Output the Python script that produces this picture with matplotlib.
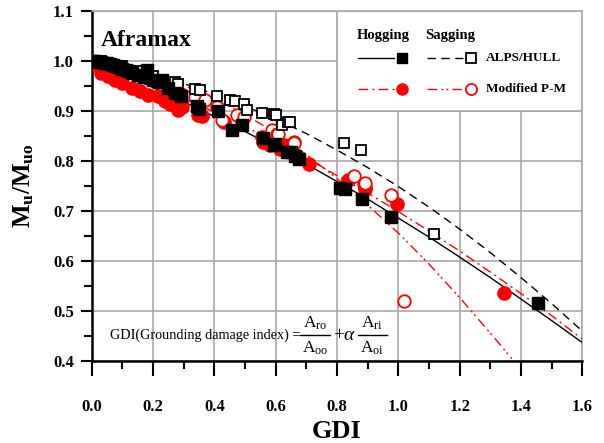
import matplotlib
matplotlib.use("Agg")
import matplotlib.pyplot as plt
from matplotlib.patches import Rectangle
from matplotlib.lines import Line2D

plt.rcParams['font.family'] = ['Liberation Serif', 'DejaVu Serif']
plt.rcParams['mathtext.fontset'] = 'custom'
plt.rcParams['mathtext.rm'] = 'Liberation Serif'
plt.rcParams['mathtext.it'] = 'Liberation Serif:italic'
plt.rcParams['mathtext.bf'] = 'Liberation Serif:bold'

# ---------------- data ----------------
curve_x = [0.0, 0.1, 0.2, 0.3, 0.4, 0.5, 0.6, 0.7, 0.8, 0.9, 1.0, 1.1, 1.2, 1.3, 1.4, 1.5, 1.6]
hog_alps_curve = [1.0, 0.974, 0.947, 0.919, 0.889, 0.859, 0.827, 0.794, 0.759, 0.724, 0.686,
                  0.648, 0.608, 0.567, 0.524, 0.481, 0.437]
sag_alps_curve = [1.0, 0.988, 0.973, 0.955, 0.934, 0.910, 0.884, 0.855, 0.822, 0.787, 0.749,
                  0.708, 0.664, 0.617, 0.567, 0.515, 0.460]
hog_pm_curve = [1.0, 0.977, 0.952, 0.926, 0.898, 0.869, 0.838, 0.806, 0.771, 0.736, 0.699,
                0.660, 0.620, 0.578, 0.535, 0.491, 0.444]
sag_pm_curve_x = [0.0, 0.1, 0.2, 0.3, 0.4, 0.5, 0.6, 0.7, 0.8, 0.9, 1.0, 1.1, 1.2, 1.3, 1.37]
sag_pm_curve = [1.0, 0.989, 0.973, 0.952, 0.925, 0.893, 0.856, 0.813, 0.765, 0.712, 0.656,
                0.594, 0.527, 0.456, 0.405]

hog_alps_x = [0.0, 0.01, 0.02, 0.03, 0.04, 0.05, 0.06, 0.07, 0.08, 0.09, 0.10, 0.11, 0.12, 0.13,
              0.15, 0.17, 0.18, 0.20, 0.22, 0.23, 0.25, 0.27, 0.29, 0.343, 0.35, 0.413, 0.457,
              0.49, 0.56, 0.593, 0.598, 0.637, 0.65, 0.663, 0.675, 0.811, 0.827, 0.881, 0.977, 1.454]
hog_alps_y = [1.0, 1.0, 0.999, 0.998, 0.997, 0.996, 0.995, 0.993, 0.99, 0.988, 0.985, 0.982, 0.98,
              0.977, 0.972, 0.968, 0.983, 0.962, 0.958, 0.962, 0.947, 0.937, 0.93, 0.91, 0.905,
              0.901, 0.862, 0.872, 0.847, 0.832, 0.834, 0.819, 0.819, 0.81, 0.804, 0.747, 0.745,
              0.725, 0.689, 0.517]

sag_alps_x = [0.0, 0.03, 0.06, 0.10, 0.15, 0.20, 0.27, 0.28, 0.337, 0.354, 0.41, 0.452, 0.468,
              0.495, 0.506, 0.555, 0.593, 0.602, 0.62, 0.639, 0.648, 0.822, 0.879, 1.116]
sag_alps_y = [1.0, 1.0, 0.995, 0.99, 0.98, 0.97, 0.958, 0.955, 0.945, 0.943, 0.93, 0.922, 0.921,
              0.914, 0.902, 0.897, 0.894, 0.892, 0.872, 0.879, 0.879, 0.837, 0.823, 0.655]

hog_pm_x = [0.0, 0.01, 0.03, 0.053, 0.075, 0.097, 0.13, 0.157, 0.184, 0.216, 0.238, 0.255, 0.282,
            0.294, 0.348, 0.354, 0.36, 0.43, 0.555, 0.56, 0.582, 0.615, 0.626, 0.71, 0.835,
            0.89, 0.892, 0.996, 1.346]
hog_pm_y = [1.0, 0.995, 0.977, 0.97, 0.963, 0.957, 0.947, 0.94, 0.933, 0.93, 0.92, 0.915, 0.903,
            0.909, 0.892, 0.895, 0.89, 0.879, 0.849, 0.839, 0.832, 0.825, 0.832, 0.795, 0.762,
            0.749, 0.745, 0.715, 0.536]

sag_pm_x = [0.0, 0.29, 0.30, 0.337, 0.37, 0.408, 0.424, 0.473, 0.495, 0.588, 0.604, 0.609, 0.658,
            0.661, 0.854, 0.889, 0.89, 0.975, 1.018]
sag_pm_y = [1.0, 0.935, 0.93, 0.929, 0.922, 0.909, 0.883, 0.892, 0.889, 0.862, 0.855, 0.855,
            0.839, 0.837, 0.77, 0.754, 0.756, 0.733, 0.521]

x_ticks = [0.0, 0.2, 0.4, 0.6, 0.8, 1.0, 1.2, 1.4, 1.6]
y_ticks = [0.4, 0.5, 0.6, 0.7, 0.8, 0.9, 1.0, 1.1]

# ---------------- figure ----------------
fig = plt.figure(figsize=(6.04, 4.43), dpi=100)
ax = fig.add_axes([0.152, 0.185, 0.812, 0.790])

red = '#ff0000'
grid_c = '#a8a8a8'

ax.plot(curve_x, sag_alps_curve, color='black', lw=1.0, ls=(0, (6, 4)), zorder=3)
ax.plot(curve_x, hog_alps_curve, color='black', lw=1.0, ls='-', zorder=3)
ax.plot(curve_x, hog_pm_curve, color=red, lw=1.0, ls=(0, (7, 3, 1.5, 3)), zorder=3)
ax.plot(sag_pm_curve_x, sag_pm_curve, color=red, lw=1.0, ls=(0, (7, 3, 1.5, 2, 1.5, 3)), zorder=3)

ms = 8
ax.plot(hog_pm_x, hog_pm_y, 'o', ms=ms + 1.5, color=red, mec=red, zorder=4)
ax.plot(sag_pm_x, sag_pm_y, 'o', ms=ms + 1, mfc='white', mec=red, mew=1.3, zorder=4)
ax.plot(sag_alps_x, sag_alps_y, 's', ms=ms - 1, mfc='white', mec='black', mew=1.3, zorder=5)
ax.plot(hog_alps_x, hog_alps_y, 's', ms=ms, color='black', zorder=6)

ax.set_xlim(0, 1.6)
ax.set_ylim(0.4, 1.1)
ax.set_xticks(x_ticks)
ax.set_yticks(y_ticks)
ax.set_xticklabels([f'{v:.1f}' for v in x_ticks], fontweight='bold', fontsize=12)
ax.set_yticklabels([f'{v:.1f}' for v in y_ticks], fontweight='bold', fontsize=12)
ax.set_xticks([0.1, 0.3, 0.5, 0.7, 0.9, 1.1, 1.3, 1.5], minor=True)
ax.set_yticks([0.45, 0.55, 0.65, 0.75, 0.85, 0.95, 1.05], minor=True)
ax.tick_params(axis='x', which='major', direction='out', length=11, width=1.5, pad=16)
ax.tick_params(axis='x', which='minor', direction='out', length=6, width=1.5)
ax.tick_params(axis='y', which='major', direction='out', length=8, width=1.5, pad=5)
ax.tick_params(axis='y', which='minor', direction='out', length=6, width=1.5)

ax.set_axisbelow(True)
ax.grid(True, which='major', color=grid_c, lw=1.2)
for s in ['left', 'bottom']:
    ax.spines[s].set_linewidth(1.8)
    ax.spines[s].set_color('black')
for s in ['top', 'right']:
    ax.spines[s].set_linewidth(1.2)
    ax.spines[s].set_color(grid_c)

ax.set_xlabel('GDI', fontsize=19, fontweight='bold', labelpad=4)
ax.set_ylabel(r'$\mathbf{M_u/M_{uo}}$', fontsize=18, labelpad=12)

ax.text(0.03, 1.042, 'Aframax', fontsize=17, fontweight='bold', va='center', ha='left')

# legend box
ax.add_patch(Rectangle((0.8, 0.9), 0.8, 0.2, facecolor='white', edgecolor=grid_c,
                       lw=1.2, zorder=1.5))
ax.text(0.865, 1.052, 'Hogging', fontsize=10.5, fontweight='bold', va='center', ha='left', zorder=7)
ax.text(1.088, 1.052, 'Sagging', fontsize=10.5, fontweight='bold', va='center', ha='left', zorder=7)
ax.add_line(Line2D([0.87, 0.985], [1.006, 1.006], color='black', lw=1.0, zorder=7))
ax.plot([1.012], [1.006], 's', ms=7, color='black', zorder=7)
ax.add_line(Line2D([1.095, 1.21], [1.006, 1.006], color='black', lw=1.0, ls=(0, (6, 4)), zorder=7))
ax.plot([1.237], [1.006], 's', ms=6.5, mfc='white', mec='black', mew=1.3, zorder=7)
ax.text(1.285, 1.006, 'ALPS/HULL', fontsize=9.5, fontweight='bold', va='center', ha='left', zorder=7)
ax.add_line(Line2D([0.87, 0.985], [0.944, 0.944], color=red, lw=1.0, ls=(0, (7, 3, 1.5, 3)), zorder=7))
ax.plot([1.012], [0.944], 'o', ms=8, color=red, zorder=7)
ax.add_line(Line2D([1.095, 1.21], [0.944, 0.944], color=red, lw=1.0,
                   ls=(0, (7, 3, 1.5, 2, 1.5, 3)), zorder=7))
ax.plot([1.237], [0.944], 'o', ms=8, mfc='white', mec=red, mew=1.3, zorder=7)
ax.text(1.285, 0.944, 'Modified P-M', fontsize=9.5, fontweight='bold', va='center', ha='left', zorder=7)

# formula (built from pieces so the fractions are full size)
fy = 0.452
ax.text(0.058, fy, 'GDI(Grounding damage index) =', fontsize=10.2, va='center', ha='left', zorder=7)
frac_parts = [
    (0.728, r'$\mathrm{A_{ro}}$', r'$\mathrm{A_{oo}}$'),
    (0.915, r'$\mathrm{A_{ri}}$', r'$\mathrm{A_{oi}}$'),
]
for cx, num, den in frac_parts:
    ax.text(cx, fy + 0.023, num, fontsize=12.5, va='center', ha='center', zorder=7)
    ax.text(cx, fy - 0.026, den, fontsize=12.5, va='center', ha='center', zorder=7)
    ax.add_line(Line2D([cx - 0.048, cx + 0.048], [fy, fy], color='black',
                       lw=1.0, zorder=7))
ax.text(0.787, fy, r'$+\alpha$', fontsize=14, va='center', ha='left', zorder=7)

fig.savefig('out.png', dpi=100)
